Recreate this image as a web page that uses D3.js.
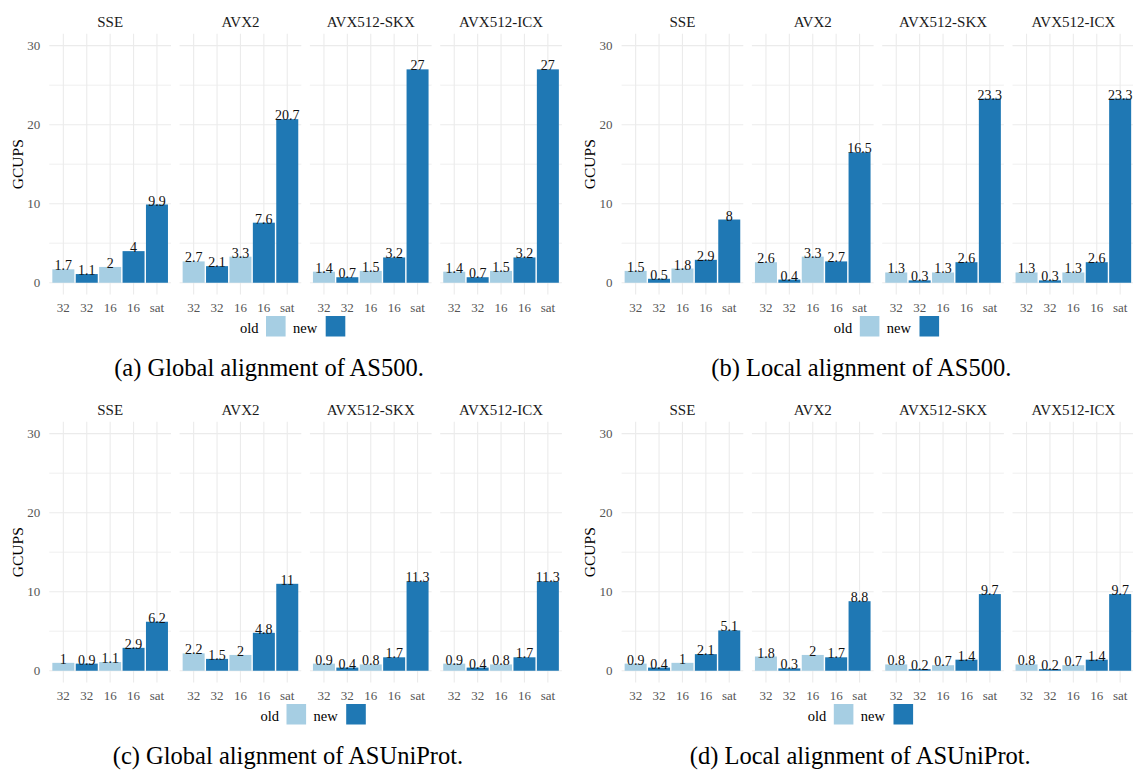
<!DOCTYPE html>
<html>
<head>
<meta charset="utf-8">
<script src="https://cdn.jsdelivr.net/npm/d3@7"></script>
<style>
  body { margin: 0; background: #fff; }
  svg { display: block; font-family: "Liberation Serif", "DejaVu Serif", serif; }
</style>
</head>
<body>
<svg width="1133" height="771"></svg>
<script>
// facets, x labels and bar versions (same for every sub figure)
const isas = ["SSE", "AVX2", "AVX512-SKX", "AVX512-ICX"];
const widthLabels = ["32", "32", "16", "16", "sat"];
const versions = ["old", "new", "old", "new", "new"];
const yTicks = [0, 10, 20, 30];
const yMinor = [5, 15, 25];

// GCUPS per facet, in the order of widthLabels
const globalAS500 = [
    [1.7, 1.1, 2, 4, 9.9],
    [2.7, 2.1, 3.3, 7.6, 20.7],
    [1.4, 0.7, 1.5, 3.2, 27],
    [1.4, 0.7, 1.5, 3.2, 27]
];
const localAS500 = [
    [1.5, 0.5, 1.8, 2.9, 8],
    [2.6, 0.4, 3.3, 2.7, 16.5],
    [1.3, 0.3, 1.3, 2.6, 23.3],
    [1.3, 0.3, 1.3, 2.6, 23.3]
];
const globalASUniProt = [
    [1, 0.9, 1.1, 2.9, 6.2],
    [2.2, 1.5, 2, 4.8, 11],
    [0.9, 0.4, 0.8, 1.7, 11.3],
    [0.9, 0.4, 0.8, 1.7, 11.3]
];
const localASUniProt = [
    [0.9, 0.4, 1, 2.1, 5.1],
    [1.8, 0.3, 2, 1.7, 8.8],
    [0.8, 0.2, 0.7, 1.4, 9.7],
    [0.8, 0.2, 0.7, 1.4, 9.7]
];
const captions = [
    "(a) Global alignment of AS500.",
    "(b) Local alignment of AS500.",
    "(c) Global alignment of ASUniProt.",
    "(d) Local alignment of ASUniProt."
];
const datasets = [globalAS500, localAS500, globalASUniProt, localASUniProt];

let colour = d3.scaleOrdinal().domain(["old", "new"]).range(["#a6cee3", "#1f78b4"]);

// where each sub figure sits
let layout = [
    { x: 0, y: 0, legend: 291.5, caption: 269 },
    { x: 572.3, y: 0, legend: 313, caption: 289 },
    { x: 0, y: 388, legend: 312, caption: 288 },
    { x: 572.3, y: 388, legend: 287, caption: 288 }
];

let panelLeft = 49.3, panelPitch = 130.3, panelWidth = 121.7;
let panelTop = 33.8, panelBottom = 294.6;

let svg = d3.select("svg");

var drawFigure = function (data, pos, caption) {
    let fig = svg.append("g")
        .attr("transform", "translate(" + pos.x + "," + pos.y + ")");

    let y = d3.scaleLinear()
        .domain([-1.5, 31.5])
        .range([panelBottom, panelTop]);

    for (let k = 0; k < isas.length; k++) {
        let x0 = panelLeft + k * panelPitch;
        let x = d3.scaleBand()
            .domain(d3.range(widthLabels.length))
            .range([x0, x0 + panelWidth])
            .paddingInner(0.06)
            .paddingOuter(0.13);
        let panel = fig.append("g").attr("class", "panel");

        // grid
        panel.selectAll("line.minor")
            .data(yMinor)
            .enter().append("line")
            .attr("class", "minor")
            .attr("x1", x0).attr("x2", x0 + panelWidth)
            .attr("y1", d => y(d)).attr("y2", d => y(d))
            .attr("stroke", "#ebebeb").attr("stroke-width", 0.8);
        panel.selectAll("line.major")
            .data(yTicks)
            .enter().append("line")
            .attr("class", "major")
            .attr("x1", x0).attr("x2", x0 + panelWidth)
            .attr("y1", d => y(d)).attr("y2", d => y(d))
            .attr("stroke", "#ebebeb").attr("stroke-width", 1.1);
        panel.selectAll("line.vgrid")
            .data(x.domain())
            .enter().append("line")
            .attr("class", "vgrid")
            .attr("x1", d => x(d) + x.bandwidth() / 2)
            .attr("x2", d => x(d) + x.bandwidth() / 2)
            .attr("y1", panelTop).attr("y2", panelBottom)
            .attr("stroke", "#ebebeb").attr("stroke-width", 1.1);

        // bars
        panel.selectAll("rect.bar")
            .data(data[k])
            .enter().append("rect")
            .attr("class", "bar")
            .attr("x", (d, i) => x(i))
            .attr("width", x.bandwidth())
            .attr("y", d => y(d))
            .attr("height", d => y(0) - y(d))
            .attr("fill", (d, i) => colour(versions[i]));

        panel.selectAll("text.value")
            .data(data[k])
            .enter().append("text")
            .attr("class", "value")
            .attr("x", (d, i) => x(i) + x.bandwidth() / 2)
            .attr("y", d => y(d) + 1)
            .attr("text-anchor", "middle")
            .attr("font-size", 14)
            .attr("fill", "#111")
            .text(d => d);

        // x axis
        let xAxis = d3.axisBottom(x)
            .tickFormat(i => widthLabels[i])
            .tickSize(0)
            .tickPadding(8.5);
        panel.append("g")
            .attr("transform", "translate(0," + panelBottom + ")")
            .call(xAxis)
            .attr("font-family", null)
            .attr("font-size", 13)
            .call(g => g.select(".domain").remove())
            .selectAll("text")
            .attr("fill", "#555");

        // strip
        panel.append("text")
            .attr("x", x0 + panelWidth / 2)
            .attr("y", 26.5)
            .attr("text-anchor", "middle")
            .attr("font-size", 15)
            .attr("fill", "#1a1a1a")
            .text(isas[k]);
    }

    // y axis
    let yAxis = d3.axisLeft(y)
        .tickValues(yTicks)
        .tickSize(0)
        .tickPadding(9);
    fig.append("g")
        .attr("transform", "translate(" + panelLeft + ",0)")
        .call(yAxis)
        .attr("font-family", null)
        .attr("font-size", 13)
        .call(g => g.select(".domain").remove())
        .selectAll("text")
        .attr("fill", "#555");

    fig.append("text")
        .attr("transform", "translate(23," + ((panelTop + panelBottom) / 2) + ")rotate(-90)")
        .attr("text-anchor", "middle")
        .attr("font-size", 15.5)
        .attr("fill", "#000")
        .text("GCUPS");

    // legend: label then key
    let c = pos.legend;
    let legend = fig.append("g");
    legend.append("text")
        .attr("x", c - 33).attr("y", 332.5)
        .attr("text-anchor", "end")
        .attr("font-size", 14.5)
        .text("old");
    legend.append("rect")
        .attr("x", c - 25.5).attr("y", 316)
        .attr("width", 19.6).attr("height", 20.5)
        .attr("fill", colour("old"));
    legend.append("text")
        .attr("x", c + 1.5).attr("y", 332.5)
        .attr("text-anchor", "start")
        .attr("font-size", 14.5)
        .text("new");
    legend.append("rect")
        .attr("x", c + 34.2).attr("y", 316)
        .attr("width", 19.6).attr("height", 20.5)
        .attr("fill", colour("new"));

    fig.append("text")
        .attr("x", pos.caption).attr("y", 376)
        .attr("text-anchor", "middle")
        .attr("font-size", 24.5)
        .attr("fill", "#000")
        .text(caption);
}

for (let f = 0; f < datasets.length; f++) {
    drawFigure(datasets[f], layout[f], captions[f]);
}
</script>
</body>
</html>
